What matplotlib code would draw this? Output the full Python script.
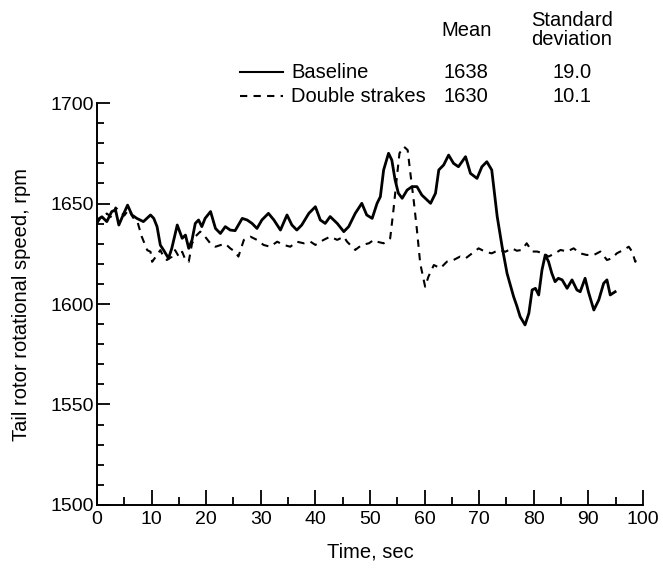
import matplotlib
matplotlib.use("Agg")
import matplotlib.pyplot as plt
from matplotlib.lines import Line2D
from matplotlib.ticker import MultipleLocator

# Baseline run (solid)
base_t = [0, 0.9, 1.8, 2.7, 3.4, 4.0, 4.9, 5.6, 6.4, 7.3, 8.5, 9.8, 10.4, 11, 11.6,
          12.2, 13.1, 13.7, 14.7, 15.6, 16.2, 16.8, 17.4, 18, 18.6, 19.2, 19.8, 20.8,
          21.7, 22.6, 23.5, 24.4, 25.3, 26.6, 27.5, 28.4, 29.3, 30.2, 31.4, 32.4, 33.6,
          34.8, 35.7, 36.6, 37.5, 38.8, 40, 40.9, 41.8, 42.7, 44, 45.2, 46.1, 47.3,
          48.5, 49.4, 50.4, 51.3, 51.9, 52.5, 53.4, 54, 54.6, 55.2, 55.9, 56.8, 57.7,
          58.6, 59.5, 61.1, 62, 62.6, 63.5, 64.4, 65.3, 66.2, 67.5, 68.4, 69.6, 70.5,
          71.4, 72.3, 73.3, 74.2, 75.1, 76.3, 76.9, 77.5, 78.4, 79.1, 79.7, 80.3, 80.9,
          81.5, 82.1, 82.7, 83.3, 83.9, 84.5, 85.2, 86.1, 87, 87.9, 88.5, 89.4, 90, 91,
          91.9, 92.8, 93.4, 94, 94.9]
base_rpm = [1641.8, 1643.4, 1641, 1646, 1646.8, 1639.3, 1645, 1649.2, 1644.3, 1642.6,
            1641, 1644.3, 1642.6, 1638.5, 1629.3, 1626.8, 1622.7, 1627.7, 1639.3, 1632.7,
            1634.3, 1627.7, 1631.8, 1640.1, 1641.8, 1638.5, 1642.6, 1646, 1637.6, 1635.1,
            1638.5, 1636.8, 1636.5, 1642.6, 1641.8, 1640.1, 1637.6, 1641.8, 1645.1, 1641.8,
            1636.8, 1644.3, 1639.3, 1636.8, 1639.3, 1645.1, 1648.4, 1641.8, 1640.1, 1643.5,
            1640.1, 1636, 1638.5, 1645.1, 1650.1, 1644.3, 1642.6, 1650.1, 1653.4, 1666.7,
            1675, 1671.6, 1661.7, 1655.1, 1652.6, 1656.7, 1658.4, 1658.4, 1654.2, 1650.1,
            1655.1, 1666.7, 1669.2, 1674.1, 1670, 1668.3, 1673.3, 1665, 1662.5, 1668.3,
            1670.8, 1666.7, 1643.5, 1628.5, 1615.3, 1603.7, 1599, 1593.7, 1589.6, 1595.4,
            1607, 1607.8, 1604.5, 1616.9, 1624.4, 1621.1, 1615.3, 1611.1, 1612.8, 1612,
            1607.8, 1612, 1607, 1606.1, 1612.8, 1606.1, 1597, 1602, 1610.3, 1612, 1604.5,
            1606.1]

# Double strakes run (dashed)
strake_t = [0, 0.9, 1.8, 2.7, 3.4, 4.2, 5, 5.8, 6.6, 7.4, 8.2, 9.2, 9.8, 10.1, 11, 11.6,
            12.2, 12.8, 13.7, 14.3, 15, 15.6, 16.2, 16.8, 17.4, 18, 18.9, 19.8, 20.8,
            21.7, 22.6, 23.5, 24.4, 25.3, 25.9, 26.9, 28.1, 29.3, 30.5, 31.7, 33, 34.2,
            35.4, 36.6, 37.9, 39.1, 40, 41.5, 42.7, 44, 45.2, 45.8, 47.3, 48.5, 49.8,
            50.7, 51.3, 52.5, 53.7, 54.3, 54.8, 55.4, 56.2, 56.9, 57.4, 58, 58.6, 59.2,
            60.1, 60.7, 61.7, 62.9, 64.1, 65.3, 66.5, 67.5, 68.7, 69.9, 71.1, 72.3, 73.6,
            74.8, 76, 76.9, 77.8, 78.7, 79.7, 80.6, 81.8, 82.7, 83.9, 84.9, 86.1, 87.3,
            88.5, 89.7, 91, 92.2, 93.4, 94.3, 95.2, 96.4, 97.4, 98, 98.6, 98.9]
strake_rpm = [1640, 1644, 1645, 1643, 1648, 1646, 1644, 1647, 1643, 1641, 1633.5, 1626.8,
              1626, 1621, 1624.4, 1626.8, 1623.5, 1621.9, 1623.5, 1626.8, 1623.5, 1626,
              1621.9, 1621, 1630, 1633.5, 1636, 1633.5, 1630, 1628.5, 1629.3, 1630, 1627.7,
              1626, 1623.6, 1631.9, 1633.5, 1631.9, 1629.4, 1628.5, 1631, 1629.4, 1628.5,
              1631, 1630.2, 1631, 1629.4, 1631.9, 1633.5, 1631.9, 1633.5, 1631, 1626.9,
              1629.4, 1630.2, 1631.9, 1631, 1630.2, 1632.7, 1646.8, 1660, 1675, 1678.3,
              1676.6, 1665, 1651.7, 1636.8, 1620.2, 1608.6, 1613.6, 1619.4, 1617.8, 1621.1,
              1621.9, 1623.6, 1622.7, 1625.2, 1627.7, 1626, 1625.2, 1626.9, 1626, 1627.7,
              1626.5, 1626.9, 1630.2, 1626.1, 1626.1, 1625.2, 1623.6, 1625.2, 1626.9, 1626.1,
              1627.7, 1625.2, 1624.4, 1624.4, 1626.1, 1621.9, 1622.7, 1625.2, 1626.9, 1628.5,
              1626.1, 1621, 1624.4]

series_names = ["Baseline", "Double strakes"]
series_mean = ["1638", "1630"]
series_std = ["19.0", "10.1"]

plt.rcParams['font.family'] = ['Liberation Sans', 'DejaVu Sans']
plt.rcParams['font.size'] = 14.5

fig = plt.figure(figsize=(6.63, 5.73), dpi=100)
ax = fig.add_axes([0.1463, 0.1187, 0.8235, 0.7015])

ax.plot(base_t, base_rpm, color='black', lw=2.0, solid_joinstyle='round')
ax.plot(strake_t, strake_rpm, color='black', lw=1.5, linestyle=(0, (3.5, 3)))

ax.set_xlim(0, 100)
ax.set_ylim(1500, 1700)
ax.xaxis.set_major_locator(MultipleLocator(10))
ax.xaxis.set_minor_locator(MultipleLocator(5))
ax.yaxis.set_major_locator(MultipleLocator(50))
ax.yaxis.set_minor_locator(MultipleLocator(10))
ax.tick_params(which='both', direction='in', width=1.3, colors='black', labelsize=14)
ax.tick_params(axis='x', which='major', length=11, pad=4)
ax.tick_params(axis='x', which='minor', length=6)
ax.tick_params(axis='y', which='major', length=9, pad=2)
ax.tick_params(axis='y', which='minor', length=5)
for side in ['top', 'right']:
    ax.spines[side].set_visible(False)
for side in ['left', 'bottom']:
    ax.spines[side].set_linewidth(1.4)

ax.set_xlabel('Time, sec', labelpad=11)
ax.set_ylabel('Tail rotor rotational speed, rpm', labelpad=14)

# header table above the plot
W, H = 663.0, 573.0
fig.text(467 / W, 1 - 31 / H, 'Mean', ha='center', va='center')
fig.text(572 / W, 1 - 30 / H, 'Standard\ndeviation', ha='center', va='center',
         linespacing=1.05)
row_y = [72, 96]
styles = ['-', (0, (3.5, 3))]
for i in range(2):
    y = 1 - row_y[i] / H
    fig.add_artist(Line2D([240 / W, 283 / W], [y, y], color='black', lw=1.5,
                          linestyle=styles[i], transform=fig.transFigure))
    fig.text(291 / W, y, series_names[i], ha='left', va='center')
    fig.text(466 / W, y, series_mean[i], ha='center', va='center')
    fig.text(572 / W, y, series_std[i], ha='center', va='center')

fig.savefig('out.png', dpi=100)
